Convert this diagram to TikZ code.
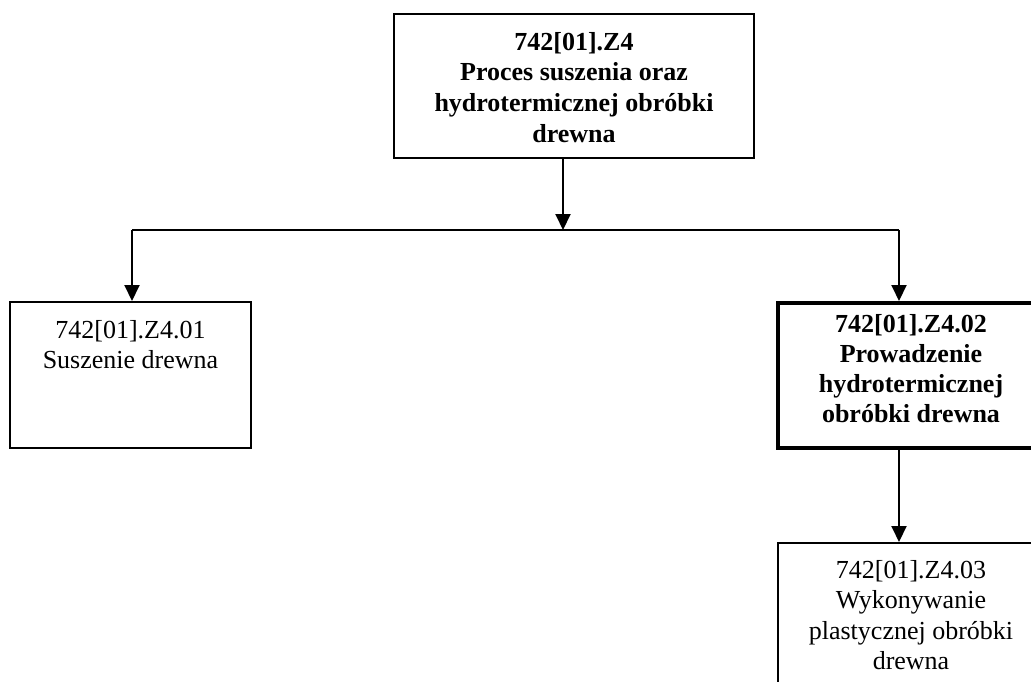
\documentclass[tikz,border=0pt]{standalone}
\usepackage{fontspec}
\setmainfont{Liberation Serif}
\usetikzlibrary{arrows.meta}
\begin{document}
\begin{tikzpicture}[x=1bp,y=-1bp,
  box/.style={draw,line width=2bp,rectangle,inner sep=0pt},
  thickbox/.style={box,line width=4bp},
  txt/.style={align=center,inner sep=0pt,anchor=north,
    font=\fontsize{26bp}{30.5bp}\selectfont},
  conn/.style={line width=2bp},
  arr/.style={conn,-{Triangle[width=15bp,length=16bp]}}]
\useasboundingbox (0,0) rectangle (1031,682);
\clip (0,0) rectangle (1031,682);
% boxes
\node[box,minimum width=360bp,minimum height=144bp] (top) at (574,86) {};
\node[box,minimum width=241bp,minimum height=146bp] (left) at (130.5,375) {};
\node[thickbox,minimum width=266bp,minimum height=145bp] (right) at (911,375.5) {};
\node[box,minimum width=266bp,minimum height=154bp] (bottom) at (911,620) {};
% texts
\node[txt,font=\fontsize{26bp}{30.7bp}\selectfont\bfseries] (ttop) at (574,32)
  {742[01].Z4\\Proces suszenia oraz\\hydrotermicznej obróbki\\drewna};
\node[txt] (tleft) at (130.5,320) {742[01].Z4.01\\Suszenie drewna};
\node[txt,font=\fontsize{26bp}{30.2bp}\selectfont\bfseries] (tright) at (911,314)
  {742[01].Z4.02\\Prowadzenie\\hydrotermicznej\\obróbki drewna};
\node[txt] (tbottom) at (911,560)
  {742[01].Z4.03\\Wykonywanie\\plastycznej obróbki\\drewna};
% connectors
\coordinate (j) at (563,230);
\coordinate (jl) at (132,230);
\coordinate (jr) at (899,230);
\draw[arr] (j |- top.south) -- (j);
\draw[conn] (jl) -- (jr);
\draw[arr] (jl) -- (jl |- left.north);
\draw[arr] (jr) -- (jr |- right.north);
\draw[arr] (jr |- right.south) -- (jr |- bottom.north);
\end{tikzpicture}
\end{document}
